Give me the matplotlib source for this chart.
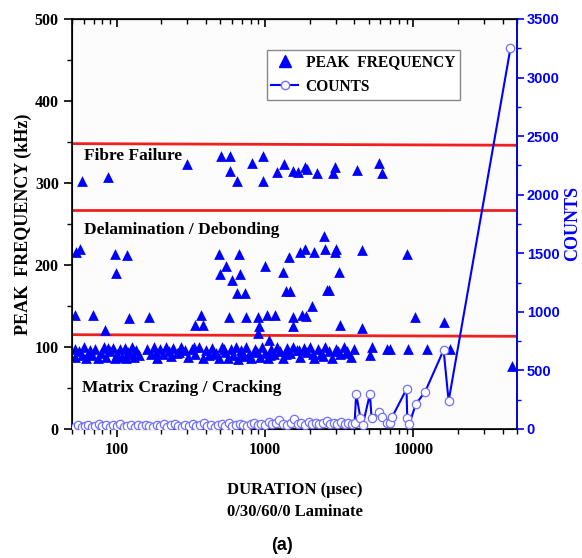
import matplotlib
matplotlib.use('Agg')

import matplotlib.pyplot as plt
import matplotlib.ticker as mticker
from matplotlib.lines import Line2D

# peak frequency scatter (duration in usec, frequency in kHz)
fibre_dur = [58, 87, 298, 505, 580, 585, 650, 817, 963, 970, 1200, 1337, 1554, 1678,
             1862, 1920, 2235, 2865, 2970, 4170, 5830, 6140]
fibre_freq = [302, 307, 323, 333, 333, 314, 302, 324, 333, 302, 313, 323, 315, 313,
              320, 317, 312, 312, 320, 316, 324, 312]

delam_dur = [53, 57, 97, 118, 99, 52, 69, 83, 121, 165, 336, 370, 380, 491, 495, 545, 574,
             601, 650, 671, 675, 733, 740, 902, 910, 1000, 1030, 1170, 1330, 1387, 1470,
             1460, 1540, 1550, 1720, 1780, 1860, 1900, 2070, 2150, 2505, 2520, 2638, 2700,
             2960, 3020, 3175, 3200, 4480, 4540, 9060, 10300, 16200, 900, 1060]
delam_freq = [216, 220, 214, 212, 190, 139, 139, 121, 135, 137, 127, 139, 127, 213, 189, 199, 137,
              182, 166, 213, 189, 166, 137, 137, 126, 199, 139, 139, 191, 168, 168,
              210, 137, 125, 216, 139, 220, 138, 150, 216, 235, 219, 169, 170,
              216, 219, 191, 127, 218, 123, 213, 137, 130, 117, 109]

matrix_dur = [52, 52, 56, 58, 60, 62, 66, 68, 72, 75, 78, 82, 85, 90, 94, 97, 100, 105, 108,
              113, 116, 120, 126, 130, 136, 142, 160, 170, 178, 188, 196, 205, 215, 225,
              240, 255, 270, 290, 305, 320, 340, 360, 380, 400, 420, 440, 470, 490, 510,
              540, 560, 590, 610, 640, 660, 690, 720, 750, 780, 810, 850, 880, 920, 960,
              1000, 1050, 1100, 1150, 1200, 1260, 1330, 1400, 1470, 1550, 1640, 1730,
              1820, 1920, 2020, 2150, 2280, 2400, 2550, 2700, 2850, 3000, 3200, 3400,
              3600, 3800, 4000, 5100, 5230, 6610, 6970, 9250, 12300, 17700, 46100,
              64, 88, 123, 185, 232, 265, 330, 455, 530, 700, 870, 1080, 1380, 1690,
              2100, 2480, 3100, 3500]
matrix_freq = [98, 88, 95, 90, 100, 87, 96, 90, 98, 86, 93, 100, 88, 95, 99, 86, 92, 97, 88,
               99, 86, 94, 100, 88, 96, 90, 98, 92, 100, 86, 97, 92, 100, 95,
               99, 93, 100, 96, 88, 98, 92, 100, 86, 96, 90, 99, 93, 87, 100,
               94, 86, 98, 90, 100, 85, 96, 89, 100, 92, 86, 98, 94, 88, 100,
               93, 86, 98, 91, 100, 95, 87, 99, 93, 100, 96, 88,
               99, 94, 100, 87, 97, 92, 100, 95, 86, 98, 92, 100,
               95, 88, 98, 90, 100, 98, 97, 98, 98, 98, 77,
               92, 99, 91, 93, 89, 94, 100, 91, 97, 93, 95, 90, 92, 96,
               91, 89, 95, 93]

freq_dur = fibre_dur + delam_dur + matrix_dur
freq_val = fibre_freq + delam_freq + matrix_freq

# counts series
count_dur = [52, 55, 58, 61, 64, 68, 72, 76, 80, 85, 90, 95, 100, 106, 112, 118, 125, 132,
             140, 148, 157, 166, 176, 186, 197, 208, 220, 233, 246, 260, 275, 291, 308, 326,
             345, 365, 386, 408, 432, 457, 483, 511, 540, 571, 604, 639, 676, 715, 756, 800,
             846, 895, 947, 1000, 1060, 1120, 1180, 1250, 1320, 1410, 1490, 1570, 1660, 1760,
             1860, 1970, 2080, 2200, 2330, 2460, 2600, 2750, 2910, 3080, 3260, 3450, 3650,
             3860, 4020, 4120, 4400, 4560, 5100, 5230, 5850, 6150, 6600, 7000, 7200, 9000,
             9100, 9400, 10400, 12000, 16000, 17300, 45200]
counts = [20, 30, 15, 25, 35, 18, 28, 40, 22, 30, 15, 33, 25, 40, 20, 28, 35, 18, 30, 22, 38,
          25, 15, 32, 28, 40, 20, 30, 45, 25, 18, 35, 28, 40, 22, 30, 48, 25, 35, 20, 30,
          40, 28, 50, 25, 35, 45, 30, 22, 40, 55, 30, 45, 35, 60, 40, 50, 77, 45, 35, 55,
          85, 40, 50, 35, 60, 45, 55, 40, 50, 65, 45, 55, 40, 60, 45, 50, 40, 51, 299,
          94, 34, 299, 94, 145, 102, 51, 51, 102, 341, 94, 43, 213, 316, 674, 239, 3252]

fig = plt.figure(figsize=(5.82, 5.58), dpi=100)
fig.patch.set_facecolor('white')
ax = fig.add_axes([0.1237, 0.2312, 0.7646, 0.7348])
ax.set_facecolor('#fcfcfc')

serif = 'Liberation Serif'

# red region boundaries
ax.plot([50, 50000], [348, 346], color='#f02020', lw=2, zorder=2)
ax.plot([50, 50000], [267, 267], color='#f02020', lw=2, zorder=2)
ax.plot([50, 50000], [115, 113], color='#f02020', lw=2, zorder=2)

ax.scatter(freq_dur, freq_val, marker='^', s=60, color='#0000ff', zorder=3, linewidths=0)

ax.set_xscale('log')
ax.set_xlim(50, 50000)
ax.set_ylim(0, 500)
ax.xaxis.set_major_locator(mticker.FixedLocator([100, 1000, 10000]))
ax.xaxis.set_major_formatter(mticker.FuncFormatter(lambda x, pos: f'{x:.0f}'))
ax.xaxis.set_minor_locator(mticker.LogLocator(base=10, subs=range(2, 10), numticks=20))
ax.xaxis.set_minor_formatter(mticker.NullFormatter())
ax.yaxis.set_major_locator(mticker.MultipleLocator(100))
ax.yaxis.set_minor_locator(mticker.MultipleLocator(50))
ax.tick_params(which='major', direction='out', length=6, width=1.2, labelsize=11.5)
ax.tick_params(which='minor', direction='out', length=3.5, width=1)
for lab in ax.get_xticklabels() + ax.get_yticklabels():
    lab.set_fontfamily(serif)
    lab.set_fontweight('bold')

top = ax.secondary_xaxis('top', functions=(lambda x: x, lambda x: x))
top.xaxis.set_major_locator(mticker.FixedLocator([100, 1000, 10000]))
top.xaxis.set_minor_locator(mticker.LogLocator(base=10, subs=range(2, 10), numticks=20))
top.tick_params(which='both', direction='in', labeltop=False)
top.tick_params(which='major', length=6, width=1.2)
top.tick_params(which='minor', length=3.5, width=1)

for sp in ax.spines.values():
    sp.set_linewidth(1.2)

ax.set_ylabel('PEAK  FREQUENCY (kHz)', fontfamily=serif, fontweight='bold', fontsize=13,
              labelpad=2)
ax.set_xlabel('DURATION (\u03bcsec)\n0/30/60/0 Laminate', fontfamily=serif,
              fontweight='bold', fontsize=12, labelpad=17, linespacing=1.5)

# region labels
ax.text(60, 333, 'Fibre Failure', fontfamily=serif, fontweight='bold', fontsize=12.5,
        va='center')
ax.text(60, 243, 'Delamination / Debonding', fontfamily=serif, fontweight='bold',
        fontsize=12.5, va='center')
ax.text(58, 50, 'Matrix Crazing / Cracking', fontfamily=serif, fontweight='bold',
        fontsize=12.5, va='center')

# counts on the right axis
ax2 = ax.twinx()
ax2.plot(count_dur, counts, color='#0000ff', lw=1.5, marker='o', markersize=6,
         markerfacecolor='white', markeredgecolor='#7070ff', markeredgewidth=0.9, zorder=4)
ax2.set_ylim(0, 3500)
ax2.yaxis.set_major_locator(mticker.MultipleLocator(500))
ax2.yaxis.set_minor_locator(mticker.MultipleLocator(250))
ax2.tick_params(which='major', direction='out', length=5, width=1.2, colors='#0000ff',
                labelsize=10.5, pad=2)
ax2.tick_params(which='minor', direction='out', length=3, width=1, colors='#0000ff')
for lab in ax2.get_yticklabels():
    lab.set_fontfamily('Liberation Sans')
    lab.set_fontweight('bold')
ax2.spines['right'].set_color('#0000ff')
ax2.spines['right'].set_linewidth(1.2)
ax2.set_ylabel('COUNTS', color='#0000ff', fontfamily=serif, fontweight='bold', fontsize=13,
               labelpad=3)

handles = [Line2D([], [], marker='^', color='#0000ff', ls='none', markersize=8),
           Line2D([], [], marker='o', color='#0000ff', lw=1.5, markersize=6,
                  markerfacecolor='white', markeredgecolor='#7070ff')]
leg = ax2.legend(handles, ['PEAK  FREQUENCY', 'COUNTS'], loc='upper left',
                 bbox_to_anchor=(0.42, 0.944), frameon=True, fancybox=False,
                 edgecolor='#888888', framealpha=1, borderpad=0.3, handlelength=1.7,
                 handletextpad=0.5, labelspacing=0.55,
                 prop={'family': serif, 'weight': 'bold', 'size': 11.2})
leg.get_frame().set_linewidth(1)

fig.text(0.484, 0.023, '(a)', fontfamily='Liberation Sans', fontweight='bold', fontsize=13,
         ha='center', va='center')

plt.savefig('out.png', dpi=100)
